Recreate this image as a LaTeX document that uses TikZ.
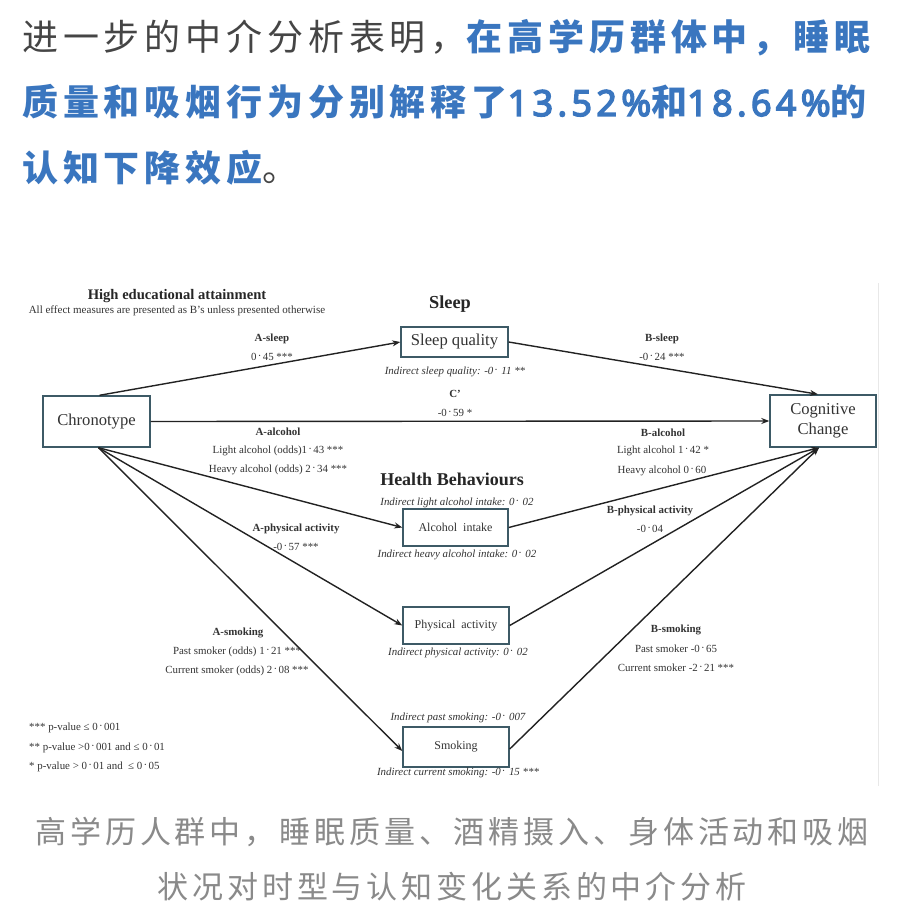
\documentclass[tikz,border=0pt]{standalone}
\usepackage{fontspec}
\setmainfont{Liberation Serif}
\newfontfamily\cjktop[LetterSpace=13.5]{Noto Sans CJK SC}
\newfontfamily\numfont[LetterSpace=12, FakeBold=4]{Noto Sans}
\newfontfamily\cjkcap[LetterSpace=12.5]{Noto Sans CJK SC}
\usetikzlibrary{arrows.meta}
\definecolor{grayT}{HTML}{454545}
\definecolor{blueT}{HTML}{3A76BF}
\definecolor{capC}{HTML}{8A8A8A}
\definecolor{boxc}{HTML}{3D5A66}
\definecolor{txtc}{HTML}{333333}
\definecolor{linec}{HTML}{222222}
\definecolor{edgec}{HTML}{E8E8E8}
\newcommand{\pd}{\kern0.12em\raisebox{0.3ex}{·}\kern0.12em}
\newcommand{\nm}[1]{{\numfont\mdseries #1}}
\tikzset{
 box/.style={draw=boxc, line width=1.4pt, fill=white, inner sep=0pt, font=\fontsize{16.6}{20}\selectfont, text=txtc, align=center},
 boxs/.style={box, font=\fontsize{12}{15}\selectfont},
 lab/.style={font=\fontsize{10.9}{13}\selectfont\bfseries, text=txtc, inner sep=0pt},
 val/.style={font=\fontsize{10.9}{13}\selectfont, text=txtc, inner sep=0pt},
 ind/.style={font=\fontsize{10.9}{13}\selectfont\itshape, text=txtc, inner sep=0pt},
 head/.style={font=\fontsize{18.3}{21}\selectfont\bfseries, text=black!85, inner sep=0pt},
 arr/.style={draw=linec, line width=1.4pt, -{Stealth[length=8pt,width=6pt]}},
 toptxt/.style={font=\fontsize{36}{40}\selectfont\cjktop, inner sep=0pt, anchor=base west},
 captxt/.style={font=\fontsize{31}{34}\selectfont\cjkcap, text=capC, inner sep=0pt, anchor=base},
}
\begin{document}
\begin{tikzpicture}[x=1pt,y=-1pt]
\useasboundingbox[fill=white] (0,0) rectangle (900,909);
% header text
\node[toptxt] (t1) at (22,51) {\textcolor{grayT}{进一步的中介分析表明，}\textcolor{blueT}{\bfseries 在高学历群体中，睡眠}};
\node[toptxt, text=blueT] (t2) at (22,116) {\bfseries 质量和吸烟行为分别解释了\nm{13.52\%}和\nm{18.64\%}的};
\node[toptxt] (t3) at (22,182) {\textcolor{blueT}{\bfseries 认知下降效应}\textcolor{grayT}{。}};
% faint image edge
\coordinate (e1) at (878,283);
\coordinate (e2) at (878,786);
\draw[edgec, line width=0.8pt] (e1) -- (e2);
% titles
\node[font=\fontsize{14.6}{17}\selectfont\bfseries, text=black!85, inner sep=0pt] (title) at (177,296) {High educational attainment};
\node[font=\fontsize{11}{13}\selectfont, text=txtc, inner sep=0pt] (sub) at (177,311) {All effect measures are presented as B’s unless presented otherwise};
\node[head] (hsleep) at (450,304) {Sleep};
\node[head, font=\fontsize{18}{21}\selectfont\bfseries] (hhb) at (452,479) {Health Behaviours};
% boxes
\node[box, minimum width=107pt, minimum height=51pt] (chrono) at (96.5,421.5) {Chronotype};
\node[box, minimum width=107pt, minimum height=30pt] (sleepq) at (454.5,342) {Sleep quality};
\node[box, minimum width=106pt, minimum height=52pt] (cog) at (823,421) {Cognitive\\Change};
\node[boxs, minimum width=105pt, minimum height=37pt] (alc) at (455.5,527.5) {Alcohol~~intake};
\node[boxs, minimum width=106pt, minimum height=37pt] (phys) at (456,625.5) {Physical~~activity};
\node[boxs, minimum width=106pt, minimum height=40pt] (smok) at (456,747) {Smoking};
% connectors
\draw[arr] ([xshift=3pt]chrono.north) -- (sleepq.west);
\draw[arr] (sleepq.east) -- ([xshift=-5pt]cog.north);
\draw[arr] (chrono.east) -- (cog.west);
\draw[arr] ([xshift=2pt]chrono.south) -- (alc.west);
\draw[arr] ([xshift=2pt]chrono.south) -- (phys.west);
\draw[arr] ([xshift=2pt]chrono.south) -- ([yshift=-4pt]smok.west);
\draw[arr] (alc.east) -- ([xshift=-4pt]cog.south);
\draw[arr] (phys.east) -- ([xshift=-4pt]cog.south);
\draw[arr] ([yshift=-2pt]smok.east) -- ([xshift=-4pt]cog.south);
% path labels
\node[lab] (asl) at (272,339) {A-sleep};
\node[val] (aslv) at (272,357) {0\pd 45 ***};
\node[lab] (bsl) at (662,339) {B-sleep};
\node[val] (bslv) at (662,357) {-0\pd 24 ***};
\node[ind] (isl) at (455,372) {Indirect sleep quality: -0\pd\ 11 **};
\node[lab] (cp) at (455,394) {C’};
\node[val] (cpv) at (455,413) {-0\pd 59 *};
\node[lab] (aal) at (278,432) {A-alcohol};
\node[val] (aal1) at (278,451) {Light alcohol (odds)1\pd 43 ***};
\node[val] (aal2) at (278,470) {Heavy alcohol (odds) 2\pd 34 ***};
\node[lab] (bal) at (663,433) {B-alcohol};
\node[val] (bal1) at (663,451) {Light alcohol 1\pd 42 *};
\node[val] (bal2) at (662,471) {Heavy alcohol 0\pd 60};
\node[ind] (ial1) at (457,503) {Indirect light alcohol intake: 0\pd\ 02};
\node[ind] (ial2) at (457,555) {Indirect heavy alcohol intake: 0\pd\ 02};
\node[lab] (apa) at (296,529) {A-physical activity};
\node[val] (apav) at (296,547) {-0\pd 57 ***};
\node[lab] (bpa) at (650,511) {B-physical activity};
\node[val] (bpav) at (650,529) {-0\pd 04};
\node[ind] (ipa) at (458,653) {Indirect physical activity: 0\pd\ 02};
\node[lab] (asm) at (238,633) {A-smoking};
\node[val] (asm1) at (237,652) {Past smoker (odds) 1\pd 21 ***};
\node[val] (asm2) at (237,671) {Current smoker (odds) 2\pd 08 ***};
\node[lab] (bsm) at (676,630) {B-smoking};
\node[val] (bsm1) at (676,649) {Past smoker -0\pd 65};
\node[val] (bsm2) at (676,668) {Current smoker -2\pd 21 ***};
\node[ind] (ism1) at (458,718) {Indirect past smoking: -0\pd\ 007};
\node[ind] (ism2) at (458,773) {Indirect current smoking: -0\pd\ 15 ***};
% legend
\node[val, anchor=west] (lg1) at (29,728) {*** p-value ≤ 0\pd 001};
\node[val, anchor=west] (lg2) at (29,748) {** p-value >0\pd 001 and ≤ 0\pd 01};
\node[val, anchor=west] (lg3) at (29,767) {* p-value > 0\pd 01 and~ ≤ 0\pd 05};
% caption
\node[captxt] (c1) at (452,843) {高学历人群中，睡眠质量、酒精摄入、身体活动和吸烟};
\node[captxt] (c2) at (452,898) {状况对时型与认知变化关系的中介分析};
\end{tikzpicture}
\end{document}
